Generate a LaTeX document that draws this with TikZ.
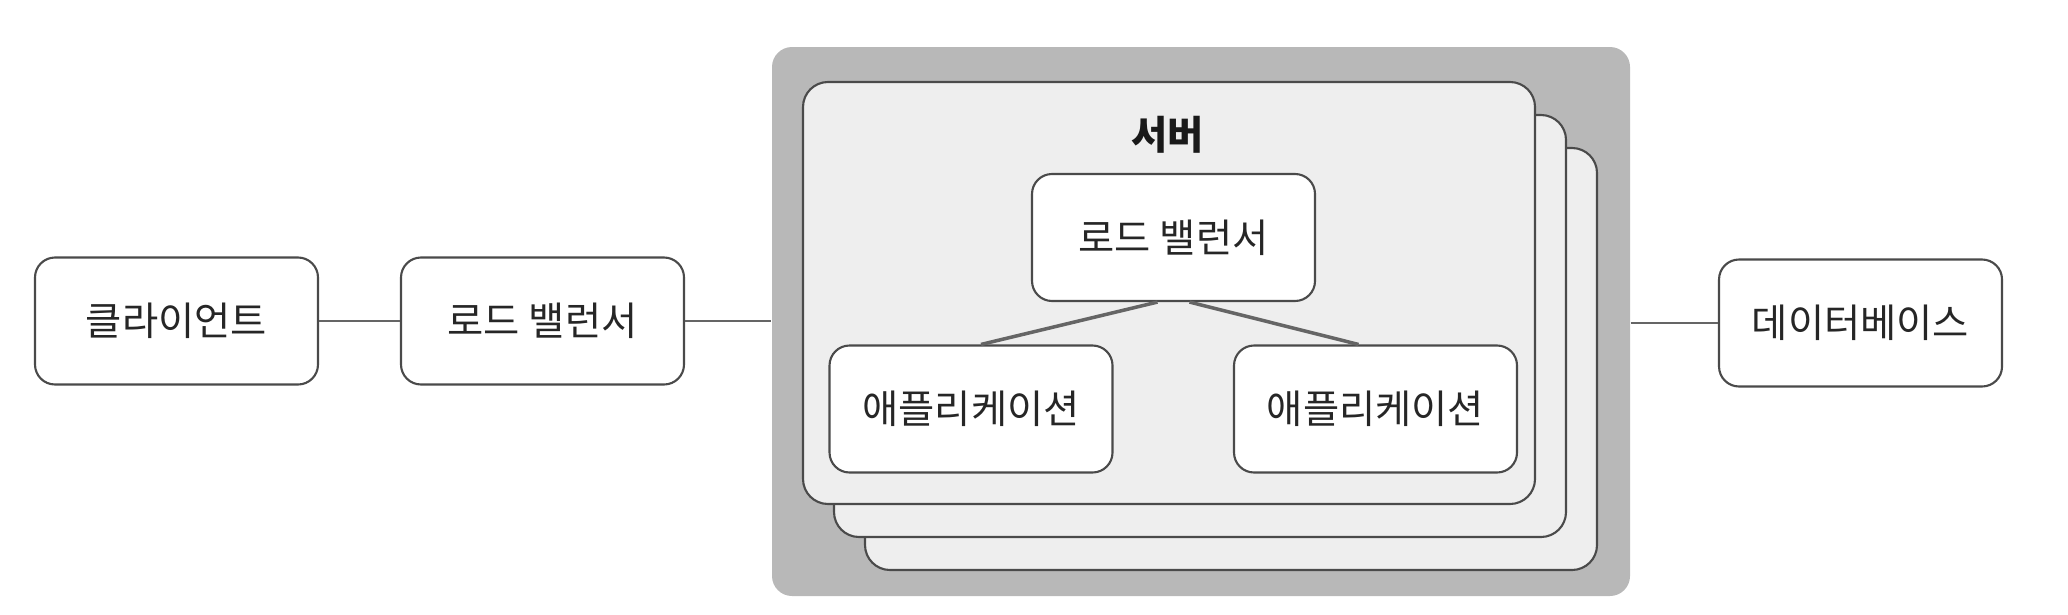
\documentclass[tikz,border=0pt]{standalone}
\usepackage{fontspec}
\setmainfont{Noto Sans CJK KR}
\definecolor{servergray}{HTML}{B8B8B8}
\definecolor{cardgray}{HTML}{EEEEEE}
\definecolor{linegray}{HTML}{4A4A4A}
\tikzset{
	box/.style={draw=linegray, line width=0.6pt, fill=white, rounded corners=0.2cm,
		minimum width=2.83cm, minimum height=1.27cm, text=black!85,
		font=\fontsize{11.2}{13}\selectfont},
	card/.style={draw=linegray, line width=0.6pt, fill=cardgray, rounded corners=0.25cm,
		minimum width=7.32cm, minimum height=4.22cm},
	link/.style={draw=linegray!85, line width=0.8pt}
}
\begin{document}
\begin{tikzpicture}
		\useasboundingbox (0,0) rectangle (20.68,6.14);
		% server group
		\node [fill=servergray, rounded corners=0.2cm, minimum width=8.58cm, minimum height=5.49cm] (srv) at (12.01,2.925) {};
		\foreach \k in {2,1,0}
			\node [card] (card\k) at ({11.69+0.31*\k},{3.21-0.33*\k}) {};
		\node [font=\fontsize{11.2}{13}\selectfont\bfseries, text=black!90] (title) at (11.675,4.79) {서버};
		\node [box] (ilb) at (11.735,3.765) {로드 밸런서};
		\node [box] (appl) at (9.71,2.05) {애플리케이션};
		\node [box] (appr) at (13.755,2.05) {애플리케이션};
		\draw [link, line width=1pt] ([xshift=-1.6mm]ilb.south) -- ([xshift=1mm]appl.north);
		\draw [link, line width=1pt] ([xshift=1.6mm]ilb.south) -- ([xshift=-1.7mm]appr.north);
		% outside
		\node [box] (client) at (1.765,2.93) {클라이언트};
		\node [box] (lb) at (5.425,2.93) {로드 밸런서};
		\node [box] (db) at (18.605,2.91) {데이터베이스};
		\draw [link] (client) -- (lb);
		\draw [link] (lb.east) -- (lb.east -| srv.west);
		\draw [link] (db.west -| srv.east) -- (db.west);
\end{tikzpicture}
\end{document}
